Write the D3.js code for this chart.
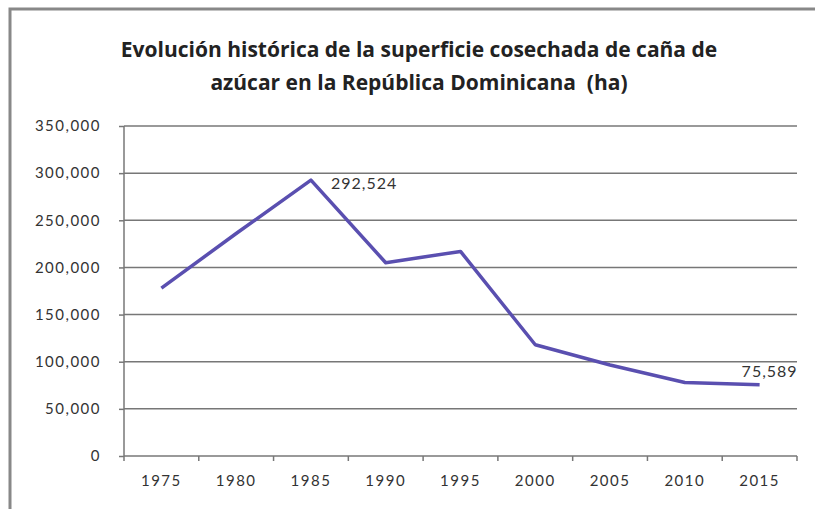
<!DOCTYPE html>
<meta charset="utf-8">
<style>
body{ margin: 0; background: white; }
svg text{ font-family: "Open Sans", sans-serif; }
.axis text{ font-family: "Lato", "Open Sans", sans-serif; font-size: 15px; fill: #333; letter-spacing: 1.5px; }
.axis path, .axis line{ stroke: #777; stroke-width: 1.5; }
.grid line{ stroke: #777; stroke-width: 1.5; }
</style>
<body>
<script src="https://cdn.jsdelivr.net/npm/d3@7"></script>
<script>

var years = ['1975','1980','1985','1990','1995','2000','2005','2010','2015']
var area = [178000, 236000, 292524, 205000, 217000, 118000, 96500, 78000, 75589]
var yTicks = [0, 50000, 100000, 150000, 200000, 250000, 300000, 350000]
var labelled = {'1985': '292,524', '2015': '75,589'}
var title = ['Evolución histórica de la superficie cosechada de caña de',
             'azúcar en la República Dominicana  (ha)']

var width = 815, height = 509,
    plotL = 124, plotR = 797, plotT = 126, plotB = 456

var svg = d3.select('body').append('svg')
    .attr('width', width).attr('height', height)

svg.append('rect')
    .attr('x', 10).attr('y', 9).attr('width', 830).attr('height', 530)
    .style('fill', 'none').style('stroke', '#888').style('stroke-width', 3)

svg.selectAll('.title').data(title).enter().append('text')
    .attr('class', 'title')
    .attr('x', 419).attr('y', function(d, i){ return 57 + i * 33 })
    .attr('text-anchor', 'middle')
    .style('font-size', '21px').style('font-weight', 'bold').style('fill', '#222')
    .style('white-space', 'pre')
    .text(function(d){ return d })

var x = d3.scaleBand().domain(years).range([plotL, plotR])
var y = d3.scaleLinear().domain([0, 350000]).range([plotB, plotT])

svg.append('g').attr('class', 'grid')
  .selectAll('line').data(yTicks.slice(1)).enter().append('line')
    .attr('x1', plotL).attr('x2', plotR)
    .attr('y1', function(d){ return y(d) }).attr('y2', function(d){ return y(d) })

var fmt = d3.format(',')

svg.append('g').attr('class', 'axis')
    .attr('transform', 'translate(' + plotL + ',0)')
    .call(d3.axisLeft(y).tickValues(yTicks).tickFormat(fmt).tickSize(5).tickPadding(18))
    .call(function(g){ g.select('.domain').attr('d', 'M0,' + plotT + 'V' + plotB) })

// category axis: ticks sit between categories
var xAxis = svg.append('g').attr('class', 'axis')
    .attr('transform', 'translate(0,' + plotB + ')')
xAxis.append('line').attr('x1', plotL).attr('x2', plotR)
var edges = years.map(function(d){ return x(d) }).concat([plotR])
xAxis.selectAll('.tk').data(edges).enter().append('line')
    .attr('x1', function(d){ return d }).attr('x2', function(d){ return d })
    .attr('y1', 0).attr('y2', 5)
xAxis.selectAll('text').data(years).enter().append('text')
    .attr('x', function(d){ return x(d) + x.bandwidth() / 2 })
    .attr('y', 30).attr('text-anchor', 'middle')
    .text(function(d){ return d })

var line = d3.line()
    .x(function(d, i){ return x(years[i]) + x.bandwidth() / 2 })
    .y(function(d){ return y(d) })

svg.append('path').datum(area)
    .attr('d', line)
    .style('fill', 'none').style('stroke', '#5a4fb0').style('stroke-width', 3.5)
    .style('stroke-linejoin', 'round')

svg.selectAll('.lbl').data(years.filter(function(d){ return labelled[d] })).enter()
  .append('text')
    .attr('class', 'lbl')
    .attr('x', function(d){ return x(d) + x.bandwidth() / 2 + (d == '2015' ? -18 : 20) })
    .attr('y', function(d){ return y(area[years.indexOf(d)]) + (d == '2015' ? -8 : 9) })
    .style('font-family', '"Lato", "Open Sans", sans-serif')
    .style('font-size', '16px').style('fill', '#333').style('letter-spacing', '1px')
    .text(function(d){ return labelled[d] })

</script>
